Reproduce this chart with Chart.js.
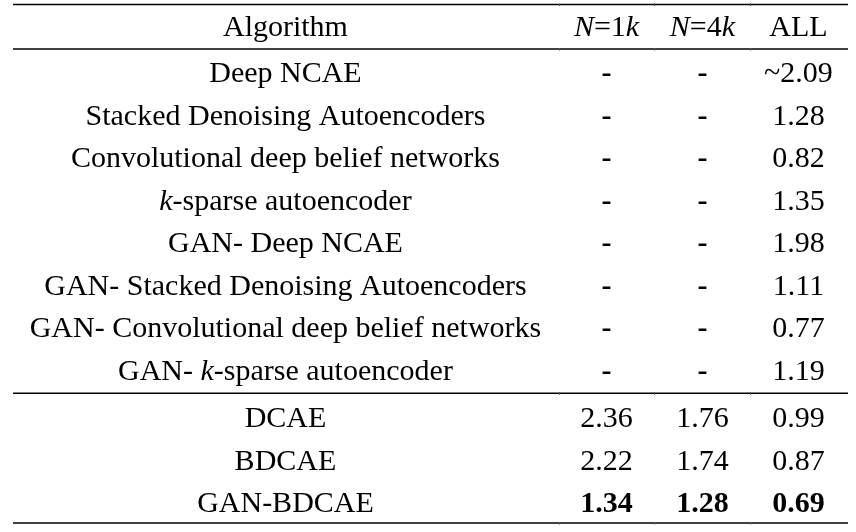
<!DOCTYPE html>
<html lang="en">
<head>
  <meta charset="UTF-8" />
  <title>Algorithm comparison table</title>
  <script src="https://cdn.jsdelivr.net/npm/chart.js"></script>
  <style>
    body {
      margin: 0;
      background: #fff;
    }

    #wrap {
      width: 856px;
      height: 532px;
    }
  </style>
</head>
<body>
  <div id="wrap">
    <canvas id="table" width="856" height="532"></canvas>
  </div>

  <script>
    // header row; *...* marks italic text
    const headers = ["Algorithm", "*N*=1*k*", "*N*=4*k*", "ALL"];

    const algorithms = [
      "Deep NCAE",
      "Stacked Denoising Autoencoders",
      "Convolutional deep belief networks",
      "*k*-sparse autoencoder",
      "GAN- Deep NCAE",
      "GAN- Stacked Denoising Autoencoders",
      "GAN- Convolutional deep belief networks",
      "GAN- *k*-sparse autoencoder",
      "DCAE",
      "BDCAE",
      "GAN-BDCAE"
    ];

    // null = "-" in the table
    const n1k = [null, null, null, null, null, null, null, null, 2.36, 2.22, 1.34];
    const n4k = [null, null, null, null, null, null, null, null, 1.76, 1.74, 1.28];
    const allData = [2.09, 1.28, 0.82, 1.35, 1.98, 1.11, 0.77, 1.19, 0.99, 0.87, 0.69];
    const approxRows = [0];   // shown with "~"
    const bestRow = 10;       // bold values
    const groupBreak = 8;     // rule drawn before this body row

    // layout
    const colX = [0.3263, 0.7108, 0.8257, 0.9407];
    const colEdges = [0.6543, 0.768, 0.883];
    const headerShift = -0.082;
    const groupShift = 0.118;
    const FONT = '"Liberation Serif", "Times New Roman", serif';

    function fmt(v, row) {
      if (v === null) return { text: "-", bold: true };
      let s = v.toFixed(2);
      if (approxRows.includes(row)) s = "~" + s;
      return { text: s, bold: row === bestRow };
    }

    function rowY(r) {
      return r + 1 + (r >= groupBreak ? groupShift : 0);
    }

    // one dataset per column, one point per cell
    const columns = [algorithms.map(a => ({ text: a, bold: false })),
      n1k.map(fmt), n4k.map(fmt), allData.map(fmt)];

    const datasets = columns.map((cells, c) => ({
      label: headers[c],
      data: [{ x: colX[c], y: headerShift, text: headers[c], bold: false }].concat(
        cells.map((cell, r) => ({ x: colX[c], y: rowY(r), text: cell.text, bold: cell.bold }))
      ),
      pointRadius: 0,
      showLine: false
    }));

    function drawRich(ctx, str, cx, y, bold) {
      const parts = str.split("*");
      const weight = bold ? "bold " : "";
      let total = 0;
      const segs = parts.map((p, i) => {
        const font = (i % 2 ? "italic " : "") + weight + "30px " + FONT;
        ctx.font = font;
        const w = ctx.measureText(p).width;
        total += w;
        return { p, font, w };
      });
      let x = cx - total / 2;
      segs.forEach(s => {
        ctx.font = s.font;
        ctx.fillText(s.p, x, y);
        x += s.w;
      });
    }

    const tablePlugin = {
      id: "tableText",
      afterDatasetsDraw(chart) {
        const ctx = chart.ctx;
        const area = chart.chartArea;
        const ys = chart.scales.y;
        const xs = chart.scales.x;
        ctx.save();
        ctx.fillStyle = "#000";
        ctx.textBaseline = "alphabetic";
        chart.data.datasets.forEach((ds, i) => {
          chart.getDatasetMeta(i).data.forEach((pt, j) => {
            const d = ds.data[j];
            drawRich(ctx, d.text, pt.x, pt.y, d.bold);
          });
        });

        // horizontal rules, placed between text rows
        const mid = v => ys.getPixelForValue(v) - 10;
        const last = algorithms.length;
        const rules = [
          mid(headerShift) - 21.5,
          (mid(headerShift) + mid(rowY(0))) / 2,
          (mid(rowY(groupBreak - 1)) + mid(rowY(groupBreak))) / 2,
          mid(rowY(last - 1)) + 21
        ];
        rules.forEach(y => {
          ctx.strokeStyle = "#000";
          ctx.lineWidth = 1.6;
          ctx.beginPath();
          ctx.moveTo(area.left, y);
          ctx.lineTo(area.right, y);
          ctx.stroke();
          // tiny column marks on each rule
          ctx.strokeStyle = "#555";
          ctx.lineWidth = 1;
          colEdges.forEach(e => {
            const x = Math.round(xs.getPixelForValue(e)) + 0.5;
            ctx.beginPath();
            ctx.moveTo(x, y - 1);
            ctx.lineTo(x, y + 1.5);
            ctx.stroke();
          });
        });
        ctx.restore();
      }
    };

    new Chart(document.getElementById("table"), {
      type: "scatter",
      data: { datasets: datasets },
      options: {
        responsive: false,
        animation: false,
        events: [],
        layout: {
          padding: { left: 13, right: 8, top: 18.25, bottom: 3.75 }
        },
        plugins: {
          legend: { display: false },
          tooltip: { enabled: false }
        },
        scales: {
          x: { type: "linear", min: 0, max: 1, display: false },
          y: { type: "linear", min: -0.5, max: 11.5, reverse: true, display: false }
        }
      },
      plugins: [tablePlugin]
    });
  </script>
</body>
</html>
